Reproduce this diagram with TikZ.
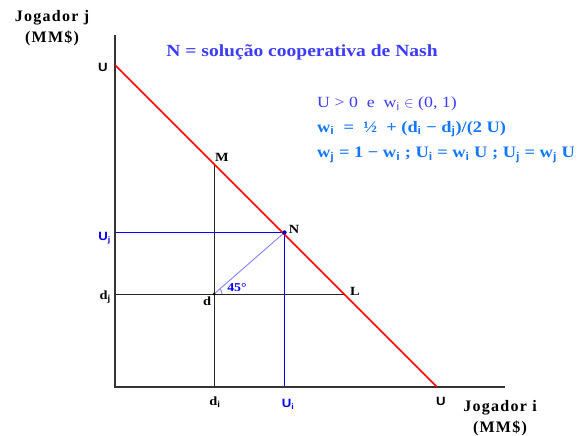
\documentclass[tikz,border=0pt]{standalone}
\usepackage{fontspec}
\setmainfont[FakeStretch=1.15]{Liberation Serif}
\newfontfamily\labfont[LetterSpace=8]{Liberation Serif}
\newfontfamily\axfont[FakeStretch=1.1]{Liberation Sans}
\usetikzlibrary{calc}
\definecolor{titleblue}{RGB}{60,60,255}
\definecolor{eqblue}{RGB}{20,120,255}
\definecolor{diagblue}{RGB}{130,130,255}
\tikzset{
 axis/.style={line width=1.8pt,draw=black!80},
 budget/.style={line width=1.5pt,draw=red},
 guide/.style={line width=.8pt,draw=black!85},
 solline/.style={line width=1pt,draw=blue},
 diagline/.style={line width=.9pt,draw=diagblue},
 player/.style={font=\labfont\bfseries\fontsize{16}{21}\selectfont,align=center,inner sep=0},
 pointlbl/.style={font=\bfseries\fontsize{12.5}{14}\selectfont,inner sep=0},
 axlbl/.style={font=\axfont\bfseries\fontsize{12}{14}\selectfont,inner sep=0},
 eqline/.style={anchor=west,inner sep=0,font=\fontsize{15.5}{18}\selectfont}
}

\begin{document}
\begin{tikzpicture}[x=1pt,y=-1pt]
\path[use as bounding box] (0,0) rectangle (581,436);
\coordinate (O) at (115,387);
\coordinate (Ytop) at (115,35);
\coordinate (Xend) at (505,387);
\coordinate (Uj0) at (115,65);
\coordinate (Ui0) at (437,387);
\coordinate (M) at (214,164);
\coordinate (L) at (345,294);
\coordinate (d) at (214,294);
\coordinate (N) at (284.5,232.5);
\coordinate (Ujax) at (115,232.5);
\coordinate (Uiax) at (284.5,387);
\coordinate (djax) at (115,294);
\coordinate (diax) at (214,387);
% axes and guides
\draw[guide] (diax) -- (M);
\draw[guide] (djax) -- (L);
\draw[solline] (Ujax) -- (N) -- (Uiax);
\draw[diagline] (d) -- (N);
\draw[diagline] ($(d)+(8,0)$) arc[start angle=0,end angle=-41,radius=8];
\draw[axis] (Ytop) -- (O) -- (Xend);
\draw[budget] (Uj0) -- (Ui0);
\fill[blue!70!black] (N) circle (2.2);
\fill (d) circle (1.5);
% labels
\node[player] (pj) at (52,28) {Jogador j\\(MM\$)};
\node[player] (pi) at (500,418) {Jogador i\\(MM\$)};
\node[font=\bfseries\fontsize{17}{20}\selectfont,text=titleblue,inner sep=0] (title) at (302,52) {N = solução cooperativa de Nash};
\node[axlbl] (Utop) at (103,67) {U};
\node[axlbl,text=blue,anchor=east] (Ujl) at (111,238) {U\textsubscript{j}};
\node[pointlbl,anchor=east] (djl) at (111,297) {d\textsubscript{\axfont j}};
\node[pointlbl] (dil) at (215,402) {d\textsubscript{\axfont i}};
\node[axlbl,text=blue] (Uil) at (288,404) {U\textsubscript{i}};
\node[axlbl] (Ubot) at (441,401) {U};
\node[pointlbl] (Ml) at (222,157) {M};
\node[pointlbl] (Nl) at (294,229) {N};
\node[pointlbl] (Ll) at (355,291) {L};
\node[pointlbl] (dl) at (207,301) {d};
\node[pointlbl,text=blue,font=\bfseries\fontsize{12}{14}\selectfont] (ang) at (237,288) {45°};
% Nash formulas
\node[eqline,text=titleblue] (eq1) at (317,104) {U > 0\ \ e\ \ w\textsubscript{\axfont i} $\in$ (0, 1)};
\node[eqline,text=eqblue,font=\bfseries\fontsize{16}{18}\selectfont] (eq2) at (317,129) {w\textsubscript{\axfont i}\ \ =\ \ ½\ \ + (d\textsubscript{\axfont i} − d\textsubscript{\axfont j})/(2 U)};
\node[eqline,text=eqblue,font=\bfseries\fontsize{16}{18}\selectfont] (eq3) at (317,155) {w\textsubscript{\axfont j} = 1 − w\textsubscript{\axfont i} ; U\textsubscript{\axfont i} = w\textsubscript{\axfont i} U ; U\textsubscript{\axfont j} = w\textsubscript{\axfont j} U};
\end{tikzpicture}
\end{document}
